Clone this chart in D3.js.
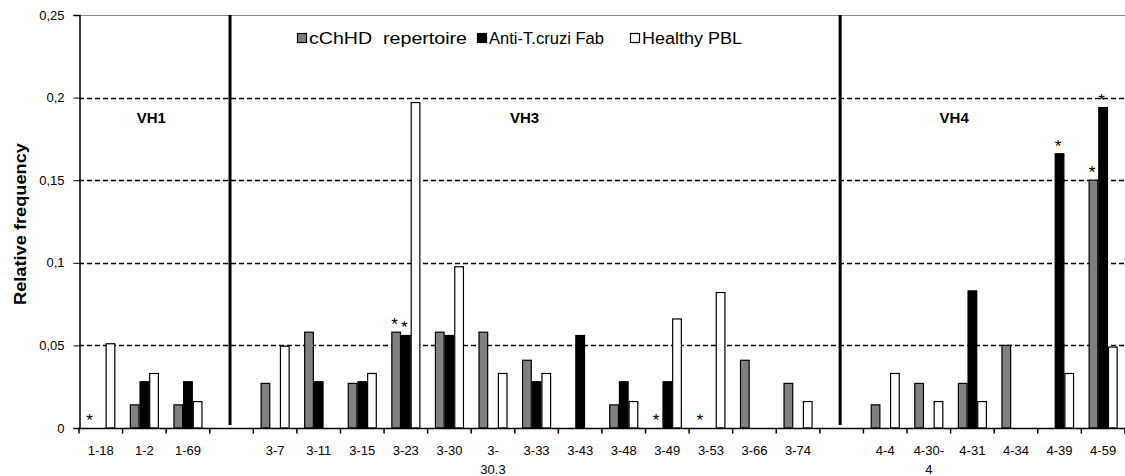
<!DOCTYPE html>
<html><head><meta charset="utf-8">
<script src="https://cdn.jsdelivr.net/npm/d3@7"></script>
<style>body{margin:0;background:#fff}svg{display:block;font-family:Arial,"Liberation Sans",sans-serif}</style>
</head><body>
<script>
const categories = ["1-18","1-2","1-69","","3-7","3-11","3-15","3-23","3-30","3-30.3","3-33","3-43","3-48","3-49","3-53","3-66","3-74","","4-4","4-30-4","4-31","4-34","4-39","4-59"];
const tickLabels = ["1-18","1-2","1-69","","3-7","3-11","3-15","3-23","3-30","3-|30.3","3-33","3-43","3-48","3-49","3-53","3-66","3-74","","4-4","4-30-|4","4-31","4-34","4-39","4-59"];
const seriesNames = ["cChHD  repertoire","Anti-T.cruzi Fab","Healthy PBL"];
const seriesColors = ["#808080","#000000","#ffffff"];
const cchhd =     [0,0.014,0.014,null,0.027,0.058,0.027,0.058,0.058,0.058,0.041,0,0.014,0,0,0.041,0.027,null,0.014,0.027,0.027,0.050,0,0.150];
const antiTcruzi =[0,0.028,0.028,null,0,0.028,0.028,0.056,0.056,0,0.028,0.056,0.028,0.028,0,0,0,null,0,0,0.083,0,0.166,0.194];
const healthy =   [0.051,0.033,0.016,null,0.0495,0,0.033,0.197,0.0976,0.033,0.033,0,0.016,0.066,0.082,0,0.016,null,0.033,0.016,0.016,0,0.033,0.049];
const yTicks = [0,0.05,0.1,0.15,0.2,0.25];
const yTickLabels = ["0","0,05","0,1","0,15","0,2","0,25"];
const significant = [[0,0],[7,0],[7,1],[13,0],[14,0],[22,1],[23,0],[23,1]];
const groups = [{name:"VH1",from:0,to:2},{name:"VH3",from:4,to:16},{name:"VH4",from:18,to:23}];
const separators = [3,17];

const W=1125,H=476;
const L=79, R=1125, T=15, B=428;
const svg=d3.select("body").append("svg").attr("width",W).attr("height",H);
svg.append("rect").attr("width",W).attr("height",H).attr("fill","#fff");

const x=d3.scaleBand().domain(d3.range(categories.length)).range([L,L+24*43.58]).paddingInner(0).paddingOuter(0);
const bw=x.bandwidth();
const xs=d3.scaleBand().domain([0,1,2]).range([bw*0.167,bw*0.833]).padding(0);
const y=d3.scaleLinear().domain([0,0.25]).range([B,T]);

// gridlines
svg.append("g").selectAll("line").data(yTicks.filter(d=>d>0&&d<0.25)).join("line")
  .attr("x1",L).attr("x2",R).attr("y1",d=>Math.round(y(d))+0.5).attr("y2",d=>Math.round(y(d))+0.5)
  .attr("stroke","#000").attr("stroke-width",1.3).attr("stroke-dasharray","5,3");
// top border
svg.append("line").attr("x1",L).attr("x2",R).attr("y1",T+0.5).attr("y2",T+0.5).attr("stroke","#888").attr("stroke-width",1);

// bars
const series=[cchhd,antiTcruzi,healthy];
const barData=[];
series.forEach((arr,s)=>arr.forEach((v,i)=>{ if(v) barData.push({i,s,v}); }));
svg.append("g").selectAll("rect").data(barData).join("rect")
  .attr("x",d=>x(d.i)+xs(d.s)+0.5).attr("width",xs.bandwidth()-1)
  .attr("y",d=>y(d.v)).attr("height",d=>B-y(d.v))
  .attr("fill",d=>seriesColors[d.s]).attr("stroke","#000").attr("stroke-width",1.2);

// significance asterisks
svg.append("g").selectAll("text").data(significant).join("text")
  .attr("x",d=>x(d[0])+xs(d[1])+xs.bandwidth()/2-1.5)
  .attr("y",d=>{const v=series[d[1]][d[0]]; return y(v||0)-2;})
  .attr("text-anchor","middle").attr("font-size",17).text("*");

// separators
svg.append("g").selectAll("line").data(separators).join("line")
  .attr("x1",d=>x(d)+bw/2-1.5).attr("x2",d=>x(d)+bw/2-1.5).attr("y1",T).attr("y2",B-3)
  .attr("stroke","#000").attr("stroke-width",3);

// y axis
const yAxis=svg.append("g").attr("transform",`translate(${L+0.5},0)`)
  .call(d3.axisLeft(y).tickValues(yTicks).tickSize(6).tickPadding(9).tickFormat((d,i)=>yTickLabels[i]));
yAxis.select(".domain").attr("stroke","#000").attr("stroke-width",1.5);
yAxis.selectAll("text").attr("font-size",13).attr("font-family","Arial,'Liberation Sans',sans-serif").attr("fill","#000");

// x axis
const xAxis=svg.append("g").attr("transform",`translate(0,${B+0.5})`);
xAxis.append("line").attr("x1",L).attr("x2",R).attr("stroke","#000").attr("stroke-width",1.5);
xAxis.selectAll("line.tk").data(d3.range(categories.length+1)).join("line").attr("class","tk")
  .attr("x1",i=>L+i*bw).attr("x2",i=>L+i*bw).attr("y1",0).attr("y2",5).attr("stroke","#000").attr("stroke-width",1.5);
const xl=xAxis.selectAll("text").data(d3.range(categories.length)).join("text")
  .attr("text-anchor","middle").attr("font-size",13).attr("fill","#000")
  .attr("transform",i=>`translate(${x(i)+bw/2},0)`);
xl.each(function(i){
  const parts=tickLabels[i].split("|");
  parts.forEach((p,k)=>d3.select(this).append("tspan").attr("x",0).attr("y",26+k*19).text(p));
});

// y label
svg.append("text").attr("transform","translate(26,224) rotate(-90)").attr("text-anchor","middle")
  .attr("font-size",16).attr("font-weight","bold").attr("textLength",162).attr("lengthAdjust","spacingAndGlyphs")
  .text("Relative frequency");

// group labels
svg.append("g").selectAll("text").data(groups).join("text")
  .attr("x",d=>(x(d.from)+x(d.to)+bw)/2 + (d.name==="VH1"?7:(d.name==="VH3"?-12:-40)))
  .attr("y",123).attr("text-anchor","middle").attr("font-size",15).attr("font-weight","bold").text(d=>d.name);

// legend
const legendX=[297,477,630];
const legendLen=[158,115,100];
const lg=svg.append("g");
seriesNames.forEach((n,k)=>{
  lg.append("rect").attr("x",legendX[k]+0.5).attr("y",33.5).attr("width",9).attr("height",9)
    .attr("fill",seriesColors[k]).attr("stroke","#000").attr("stroke-width",1.2);
  lg.append("text").attr("x",legendX[k]+12).attr("y",44).attr("font-size",16).attr("xml:space","preserve")
    .style("white-space","pre").attr("textLength",legendLen[k]).attr("lengthAdjust","spacingAndGlyphs").text(n);
});
</script>
</body></html>
